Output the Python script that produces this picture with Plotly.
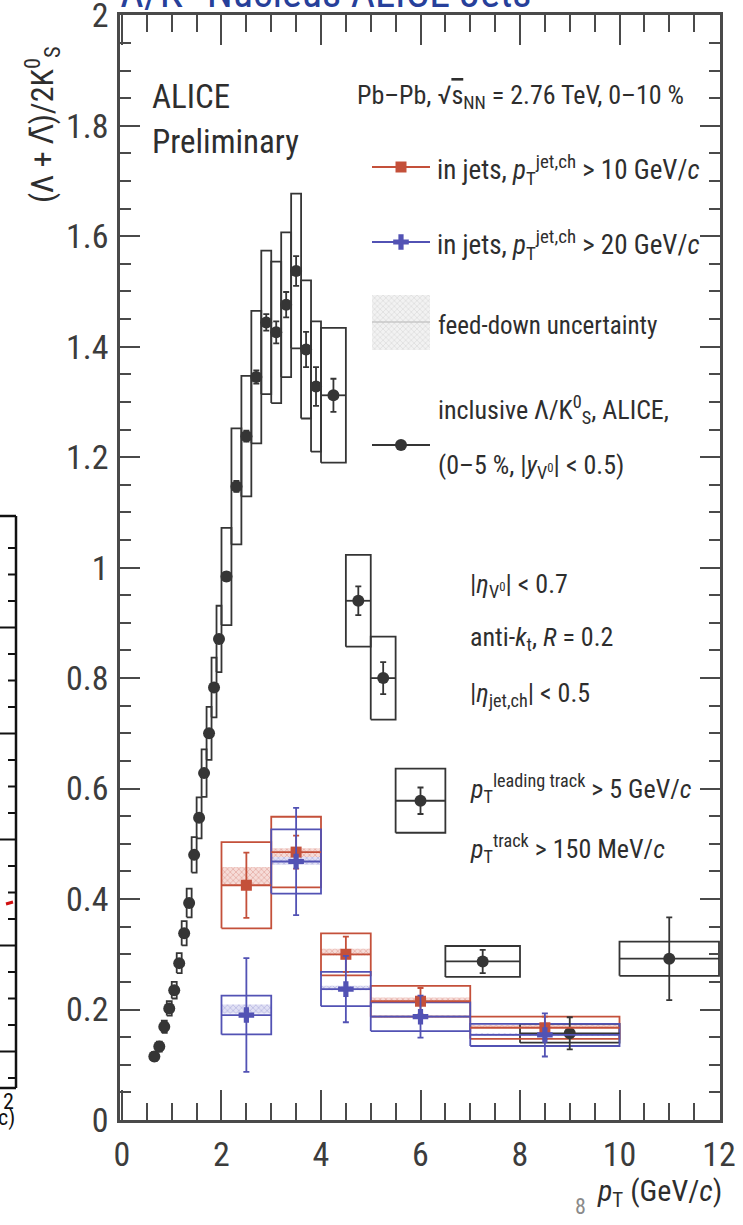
import plotly.graph_objects as go

# ---------------- data ----------------
# inclusive Lambda/K0S, ALICE (0-5 %)
incl_pt = [0.65, 0.75, 0.85, 0.95, 1.05, 1.15, 1.25, 1.35, 1.45, 1.55, 1.65, 1.75, 1.85, 1.95,
           2.1, 2.3, 2.5, 2.7, 2.9, 3.1, 3.3, 3.5, 3.7, 3.9, 4.25, 4.75, 5.25, 6.0, 7.25, 9.0, 11.0]
incl_hw = [0.05] * 14 + [0.1] * 10 + [0.25, 0.25, 0.25, 0.5, 0.75, 1.0, 1.0]
incl_val = [0.115, 0.133, 0.169, 0.202, 0.235, 0.284, 0.338, 0.393, 0.48, 0.547, 0.628, 0.70, 0.783, 0.871,
            0.984, 1.147, 1.238, 1.345, 1.444, 1.426, 1.476, 1.537, 1.395, 1.328, 1.312, 0.94, 0.80, 0.578,
            0.287, 0.157, 0.292]
incl_stat = [0.004] * 14 + [0.008, 0.01, 0.01, 0.012, 0.015, 0.02, 0.023, 0.027, 0.032, 0.035, 0.03,
                            0.026, 0.029, 0.024, 0.021, 0.029, 0.075]
incl_sys = [0.008, 0.009, 0.011, 0.013, 0.015, 0.018, 0.022, 0.026, 0.032, 0.037, 0.043, 0.048, 0.054, 0.06,
            0.088, 0.105, 0.109, 0.12, 0.13, 0.128, 0.131, 0.14, 0.125, 0.118, 0.122, 0.083, 0.075, 0.058,
            0.028, 0.017, 0.031]

# in jets
jet_pt = [2.5, 3.5, 4.5, 6.0, 8.5]
jet_hw = [0.5, 0.5, 0.5, 1.0, 1.5]

j10_val = [0.425, 0.485, 0.30, 0.215, 0.167]
j10_stat = [0.059, 0.03, 0.032, 0.024, 0.02]
j10_sys = [0.078, 0.064, 0.038, 0.028, 0.02]
j10_fd_lo = [0.425, 0.472, 0.298, 0.213, 0.166]
j10_fd_hi = [0.458, 0.492, 0.31, 0.222, 0.172]

j20_val = [0.19, 0.468, 0.237, 0.187, 0.154]
j20_stat = [0.103, 0.097, 0.06, 0.038, 0.039]
j20_sys = [0.035, 0.058, 0.031, 0.026, 0.02]
j20_fd_lo = [0.193, 0.462, 0.235, 0.185, 0.152]
j20_fd_hi = [0.209, 0.476, 0.243, 0.19, 0.157]

x_ticks = [0, 2, 4, 6, 8, 10, 12]
y_ticks = [0, 0.2, 0.4, 0.6, 0.8, 1, 1.2, 1.4, 1.6, 1.8, 2]
y_ticktext = ["0", "0.2", "0.4", "0.6", "0.8", "1", "1.2", "1.4", "1.6", "1.8", "2"]

# ---------------- style ----------------
RED = "#c4503a"
BLUE = "#5252b4"
BLACK = "#353535"
AXC = "#4a4a4a"
TXT = "#2e2e2e"
FONT = "Liberation Sans Narrow, Roboto Condensed, DejaVu Sans Condensed, Arial Narrow, Roboto, Liberation Sans, sans-serif"

W, H = 743, 1225
L, R, T, B = 120, 720, 15, 1120


def px(x):
    return (x - L) / (R - L)


def py(y):
    return (B - y) / (B - T)


def rects(xc, hw, yc, lo, hi):
    xs, ys = [], []
    for x, w, y, a, b in zip(xc, hw, yc, lo, hi):
        xs += [x - w, x + w, x + w, x - w, x - w, None]
        ys += [a, a, b, b, a, None]
    return xs, ys


fig = go.Figure()

# feed-down bands
for val, lo, hi, fg, bg in [(j10_val, j10_fd_lo, j10_fd_hi, "#d98a80", "#f6dcd8"),
                            (j20_val, j20_fd_lo, j20_fd_hi, "#9a9ad6", "#e0e0f4")]:
    xs, ys = rects(jet_pt, jet_hw, val, lo, hi)
    fig.add_trace(go.Scatter(x=xs, y=ys, mode="lines", fill="toself", line=dict(width=0),
                             fillcolor=bg,
                             fillpattern=dict(shape="x", fgcolor=fg, bgcolor=bg, size=4, solidity=0.4),
                             hoverinfo="skip", showlegend=False))

# systematic boxes
for xc, hw, val, sys_, col in [(incl_pt, incl_hw, incl_val, incl_sys, BLACK),
                                (jet_pt, jet_hw, j10_val, j10_sys, RED),
                                (jet_pt, jet_hw, j20_val, j20_sys, BLUE)]:
    lo = [v - s for v, s in zip(val, sys_)]
    hi = [v + s for v, s in zip(val, sys_)]
    xs, ys = rects(xc, hw, val, lo, hi)
    fig.add_trace(go.Scatter(x=xs, y=ys, mode="lines", line=dict(color=col, width=1.8),
                             hoverinfo="skip", showlegend=False))

# points with stat errors
for xc, hw, val, st, col, sym, size in [(incl_pt, incl_hw, incl_val, incl_stat, BLACK, "circle", 12),
                                        (jet_pt, jet_hw, j10_val, j10_stat, RED, "square", 11),
                                        (jet_pt, jet_hw, j20_val, j20_stat, BLUE, "cross", 13)]:
    fig.add_trace(go.Scatter(
        x=xc, y=val, mode="markers",
        marker=dict(symbol=sym, size=size, color=col, line=dict(width=0)),
        error_x=dict(type="data", array=hw, color=col, thickness=1.8, width=0),
        error_y=dict(type="data", array=st, color=col, thickness=1.8, width=3),
        showlegend=False))

# ---------------- legend glyphs (overlay axes in paper units) ----------------
lx0, lx1, lxm = px(372), px(430), px(401)
leg_y = {"r": py(167), "b": py(242), "f": py(322), "k": py(445)}
fig.add_trace(go.Scatter(x=[lx0, lx1, lx1, lx0, lx0], y=[py(295), py(295), py(350), py(350), py(295)],
                         xaxis="x2", yaxis="y2", mode="lines", fill="toself", line=dict(width=0),
                         fillcolor="#ececec",
                         fillpattern=dict(shape="x", fgcolor="#cfcfcf", bgcolor="#f2f2f2", size=4, solidity=0.4),
                         hoverinfo="skip", showlegend=False))
for key, col, sym, size in [("r", RED, "square", 11), ("b", BLUE, "cross", 13), ("f", "#b5b5b5", None, 0),
                            ("k", BLACK, "circle", 12)]:
    yy = leg_y[key]
    fig.add_trace(go.Scatter(x=[lx0, lx1], y=[yy, yy], xaxis="x2", yaxis="y2", mode="lines",
                             line=dict(color=col, width=2 if key != "f" else 1.2),
                             hoverinfo="skip", showlegend=False))
    if sym:
        fig.add_trace(go.Scatter(x=[lxm], y=[yy], xaxis="x2", yaxis="y2", mode="markers",
                                 marker=dict(symbol=sym, size=size, color=col),
                                 hoverinfo="skip", showlegend=False))

# ---------------- annotations ----------------
ann = []


def txt(x, y, s, size=26, xanchor="left", yanchor="middle", color=TXT, angle=0):
    ann.append(dict(x=px(x), y=py(y), xref="paper", yref="paper", text=s, showarrow=False,
                    xanchor=xanchor, yanchor=yanchor, textangle=angle,
                    font=dict(family=FONT, size=size, color=color)))


txt(150, 97, "ALICE", size=33)
txt(150, 141, "Preliminary", size=33)
txt(355, 97, "Pb–Pb, √<span style='text-decoration:overline'>s</span><sub>NN</sub> = 2.76 TeV, 0–10 %", size=26)
txt(435, 170, "in jets, <i>p</i><sub>T</sub><sup>jet,ch</sup> &gt; 10 GeV/<i>c</i>", size=27)
txt(435, 245, "in jets, <i>p</i><sub>T</sub><sup>jet,ch</sup> &gt; 20 GeV/<i>c</i>", size=27)
txt(436, 325, "feed-down uncertainty", size=25)
txt(436, 410, "inclusive Λ/K<sup>0</sup><sub>S</sub>, ALICE,", size=26)
txt(436, 466, "(0–5 %, |<i>y</i><sub>V<sup>0</sup></sub>| &lt; 0.5)", size=26)
txt(468, 586, "|<i>η</i><sub>V<sup>0</sup></sub>| &lt; 0.7", size=26)
txt(468, 638, "anti-<i>k</i><sub>t</sub>, <i>R</i> = 0.2", size=26)
txt(468, 694, "|<i>η</i><sub>jet,ch</sub>| &lt; 0.5", size=26)
txt(468, 788, "<i>p</i><sub>T</sub><sup>leading track</sup> &gt; 5 GeV/<i>c</i>", size=26)
txt(468, 848, "<i>p</i><sub>T</sub><sup>track</sup> &gt; 150 MeV/<i>c</i>", size=26)

# axis titles
txt(724, 1192, "<i>p</i><sub>T</sub> (GeV/<i>c</i>)", size=30, xanchor="right")
txt(42, 125, "(Λ + Λ̄)/2K<sup>0</sup><sub>S</sub>", size=32, xanchor="center", angle=-90)
# slide page number
txt(580, 1206, "8", size=22, xanchor="center", color="#8a8a8a")
# cut slide title at the top
txt(118, 19, "Λ/K<sup>0</sup> Nucleus ALICE Jets", size=42, yanchor="bottom", color="#27409a")
# remnants of the neighbouring plot on the left edge
txt(8, 1101, "2", size=22, xanchor="center", color="#111111")
txt(6, 1118, "c)", size=22, xanchor="center", color="#111111")

shapes = []
# left partial frame
shapes.append(dict(type="line", xref="paper", yref="paper", x0=px(16), x1=px(16), y0=py(516), y1=py(1088),
                   line=dict(color="#111111", width=2.5)))
shapes.append(dict(type="line", xref="paper", yref="paper", x0=px(0), x1=px(16), y0=py(516), y1=py(516),
                   line=dict(color="#111111", width=2.5)))
shapes.append(dict(type="line", xref="paper", yref="paper", x0=px(0), x1=px(16), y0=py(1088), y1=py(1088),
                   line=dict(color="#111111", width=2.5)))
yy = 548
k = 0
while yy < 1080:
    ln = 16 if k % 4 == 3 else 8
    shapes.append(dict(type="line", xref="paper", yref="paper", x0=px(16 - ln), x1=px(16), y0=py(yy), y1=py(yy),
                       line=dict(color="#111111", width=2)))
    yy += 26.5
    k += 1
shapes.append(dict(type="line", xref="paper", yref="paper", x0=px(6), x1=px(13), y0=py(904), y1=py(902),
                   line=dict(color="#d01010", width=3)))

fig.update_layout(
    width=W, height=H, autosize=False,
    margin=dict(l=L, r=W - R, t=T, b=H - B, pad=0, autoexpand=False),
    paper_bgcolor="white", plot_bgcolor="white",
    font=dict(family=FONT, color=TXT),
    showlegend=False,
    annotations=ann, shapes=shapes,
    xaxis=dict(range=[-0.04, 12.02], tickvals=x_ticks, ticks="inside", ticklen=30, tickwidth=2,
               tickcolor=AXC, minor=dict(dtick=0.5, tick0=0, ticks="inside", ticklen=17, tickwidth=2,
                                          tickcolor=AXC),
               showline=True, linecolor=AXC, linewidth=2.5, mirror="ticks", showgrid=False, zeroline=False,
               tickfont=dict(family=FONT, size=34, color="#3c3c3c"), ticklabelstandoff=2,
               ticklabeloverflow="allow", automargin=False),
    yaxis=dict(range=[0, 2.0005], tickvals=y_ticks, ticktext=y_ticktext, ticks="inside", ticklen=20,
               tickwidth=2, tickcolor=AXC,
               minor=dict(dtick=0.05, tick0=0, ticks="inside", ticklen=11, tickwidth=2, tickcolor=AXC),
               showline=True, linecolor=AXC, linewidth=2.5, mirror="ticks", showgrid=False, zeroline=False,
               tickfont=dict(family=FONT, size=34, color="#3c3c3c"), ticklabelstandoff=2,
               ticklabeloverflow="allow", automargin=False),
    xaxis2=dict(range=[0, 1], overlaying="x", visible=False, fixedrange=True, automargin=False),
    yaxis2=dict(range=[0, 1], overlaying="y", visible=False, fixedrange=True, automargin=False),
)

fig.write_html("out.html")
